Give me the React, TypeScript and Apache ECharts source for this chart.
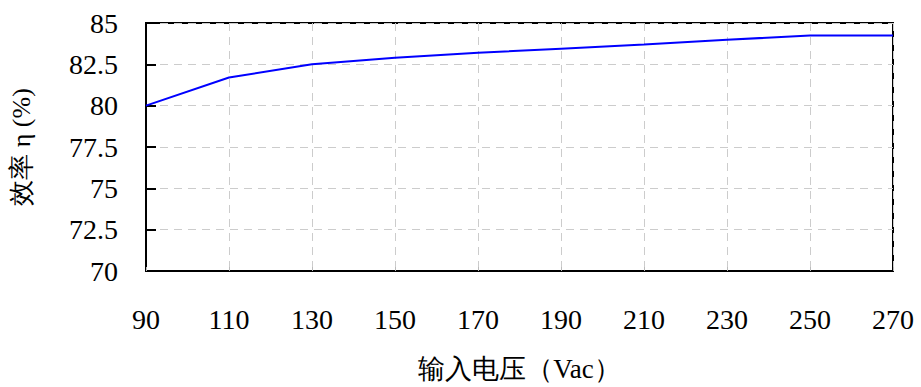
import React, { useEffect, useRef } from "react";
import * as echarts from "echarts";

const voltages = ["90", "110", "130", "150", "170", "190", "210", "230", "250", "270"];
const efficiency = [80.0, 81.7, 82.5, 82.9, 83.2, 83.45, 83.7, 83.98, 84.25, 84.25];
const yMin = 70;
const yMax = 85;
const yStep = 2.5;
const xTitle = "输入电压（Vac）";
const yTitle = "效率 η (%)";

const FONT = "Liberation Serif";

export default function App() {
  const ref = useRef<HTMLDivElement>(null);
  useEffect(() => {
    if (!ref.current) return;
    const chart = echarts.init(ref.current, null, { renderer: "svg" });
    chart.setOption({
      animation: false,
      backgroundColor: "#ffffff",
      textStyle: { fontFamily: FONT },
      grid: {
        left: 146,
        right: 28,
        top: 23,
        bottom: 110,
        show: true,
        borderColor: "#000",
        borderWidth: 2,
        backgroundColor: "transparent",
      },
      xAxis: {
        type: "category",
        data: voltages,
        boundaryGap: false,
        name: xTitle,
        nameLocation: "middle",
        nameGap: 84,
        nameTextStyle: { fontFamily: FONT, fontSize: 27, color: "#000" },
        axisLine: { show: true, lineStyle: { color: "#000", width: 2 } },
        axisTick: { show: true, inside: true, length: 4, lineStyle: { color: "#bbb" } },
        axisLabel: { fontFamily: FONT, fontSize: 28, color: "#000", margin: 34 },
        splitLine: { show: true, lineStyle: { color: "#cccccc", type: [8, 6], width: 1 } },
      },
      yAxis: {
        type: "value",
        min: yMin,
        max: yMax,
        interval: yStep,
        name: yTitle,
        nameLocation: "middle",
        nameGap: 112,
        nameRotate: 90,
        nameTextStyle: { fontFamily: FONT, fontSize: 26, color: "#000" },
        axisLine: { show: true, lineStyle: { color: "#000", width: 2 } },
        axisTick: { show: true, inside: true, length: 10, lineStyle: { color: "#000", width: 2 } },
        axisLabel: { fontFamily: FONT, fontSize: 28, color: "#000", margin: 28 },
        splitLine: { show: true, lineStyle: { color: "#cccccc", type: [8, 6], width: 1 } },
      },
      series: [
        {
          type: "line",
          data: efficiency,
          symbol: "none",
          lineStyle: { color: "#0000ff", width: 2 },
          itemStyle: { color: "#0000ff" },
        },
      ],
    });
    return () => chart.dispose();
  }, []);
  return <div ref={ref} style={{ width: 921, height: 387, position: "absolute", left: 0, top: 0 }} />;
}
